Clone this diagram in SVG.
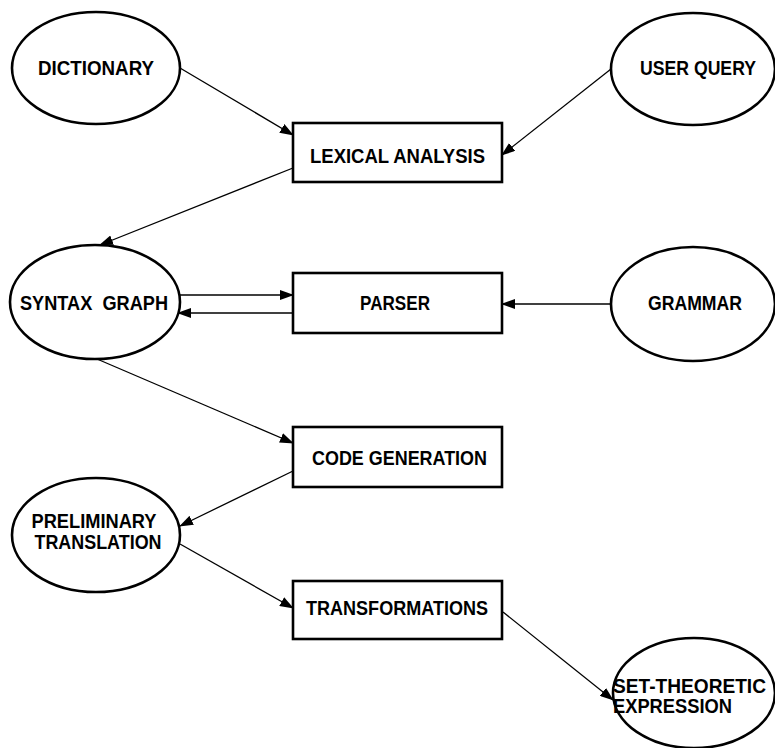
<svg xmlns="http://www.w3.org/2000/svg" width="775" height="748" viewBox="0 0 775 748">
<style>
.n ellipse, .n rect { fill: #fff; stroke: #000; stroke-width: 2.6; }
text { font-family: "Liberation Sans", Arial, sans-serif; font-weight: bold; font-size: 20px; fill: #000; }
.c line { stroke: #000; stroke-width: 1.3; fill: none; marker-end: url(#ah); }
</style>
<defs>
<marker id="ah" markerUnits="userSpaceOnUse" markerWidth="14" markerHeight="10" refX="13" refY="5" orient="auto">
<path d="M0,0 L14,5 L0,10 Z" fill="#000"/>
</marker>
</defs>
<g class="c" id="connectors">
<line x1="180" y1="68" x2="293" y2="135"/>
<line x1="611" y1="69" x2="502" y2="155"/>
<line x1="293" y1="168" x2="100" y2="245"/>
<line x1="180" y1="295" x2="293" y2="295"/>
<line x1="293" y1="313" x2="178" y2="313"/>
<line x1="612" y1="304" x2="502" y2="304"/>
<line x1="97" y1="359" x2="293" y2="443"/>
<line x1="293" y1="471" x2="180" y2="526"/>
<line x1="180" y1="544" x2="293" y2="608"/>
<line x1="503" y1="612" x2="613" y2="700"/>
</g>
<g class="n" id="dictionary">
<ellipse cx="96" cy="68" rx="84" ry="56"/>
<text x="96" y="75" text-anchor="middle" textLength="116" lengthAdjust="spacingAndGlyphs">DICTIONARY</text>
</g>
<g class="n" id="user-query">
<ellipse cx="693" cy="69" rx="82" ry="56"/>
<text x="698" y="75" text-anchor="middle" textLength="116" lengthAdjust="spacingAndGlyphs">USER QUERY</text>
</g>
<g class="n" id="lexical-analysis">
<rect x="293" y="123" width="209" height="59"/>
<text x="397.5" y="163" text-anchor="middle" textLength="175" lengthAdjust="spacingAndGlyphs">LEXICAL ANALYSIS</text>
</g>
<g class="n" id="syntax-graph">
<ellipse cx="95" cy="302" rx="85" ry="57"/>
<text x="94" y="310" text-anchor="middle" textLength="148" lengthAdjust="spacingAndGlyphs" style="white-space:pre" xml:space="preserve">SYNTAX  GRAPH</text>
</g>
<g class="n" id="parser">
<rect x="293" y="273" width="209" height="60"/>
<text x="395" y="310" text-anchor="middle" textLength="70" lengthAdjust="spacingAndGlyphs">PARSER</text>
</g>
<g class="n" id="grammar">
<ellipse cx="693" cy="304" rx="82" ry="57"/>
<text x="695" y="310" text-anchor="middle" textLength="94" lengthAdjust="spacingAndGlyphs">GRAMMAR</text>
</g>
<g class="n" id="code-generation">
<rect x="293" y="427" width="209" height="60"/>
<text x="399.5" y="465" text-anchor="middle" textLength="175" lengthAdjust="spacingAndGlyphs">CODE GENERATION</text>
</g>
<g class="n" id="preliminary-translation">
<ellipse cx="96" cy="535" rx="84" ry="57"/>
<text x="94" y="528" text-anchor="middle" textLength="125" lengthAdjust="spacingAndGlyphs">PRELIMINARY</text>
<text x="98" y="549" text-anchor="middle" textLength="127" lengthAdjust="spacingAndGlyphs">TRANSLATION</text>
</g>
<g class="n" id="transformations">
<rect x="293" y="581" width="209" height="58"/>
<text x="397" y="615" text-anchor="middle" textLength="182" lengthAdjust="spacingAndGlyphs">TRANSFORMATIONS</text>
</g>
<g class="n" id="set-theoretic-expression">
<ellipse cx="694" cy="693" rx="81" ry="55"/>
<text x="613" y="693" textLength="153" lengthAdjust="spacingAndGlyphs">SET-THEORETIC</text>
<text x="613" y="713" textLength="119" lengthAdjust="spacingAndGlyphs">EXPRESSION</text>
</g>
</svg>
